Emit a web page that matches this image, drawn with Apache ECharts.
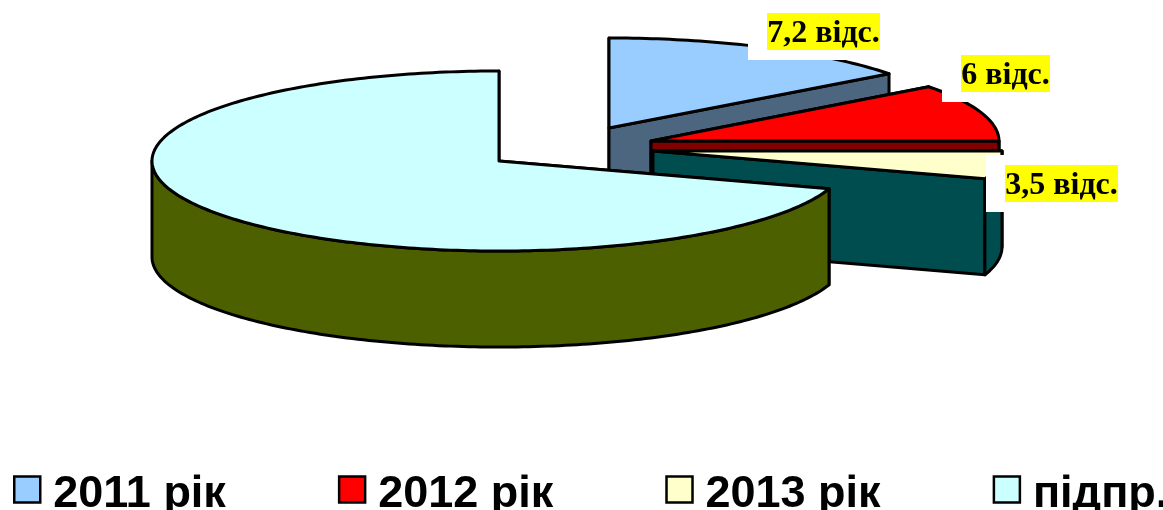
<!DOCTYPE html>
<html>
<head>
<meta charset="utf-8">
<style>
  html, body { margin: 0; padding: 0; background: #fff; overflow: hidden; }
  #chart { width: 1163px; height: 510px; }
</style>
<script src="https://cdn.jsdelivr.net/npm/echarts@6/dist/echarts.min.js"></script>
</head>
<body>
<div id="chart"></div>
<script>
// data
const categories = ['2011 рік', '2012 рік', '2013 рік', 'підпр.'];
const shares = [14.7, 10.3, 5.0, 70.0]; // share of the circle, %
const labels = ['7,2 відс.', '6 відс.', '3,5 відс.', ''];

// styles
const topColors = ['#99ccff', '#ff0000', '#ffffcc', '#ccffff'];
const wallColors = ['#4d6680', '#800000', '#004d50', '#4d6000'];

// layout of the exploded slices: centre x, centre y, rx
const sliceCx = [609, 651, 653, 499];
const sliceCy = [128, 141, 151, 161];
const sliceRx = [351, 348, 349, 347];
const ry = 90;
const depth = 96;
const lineW = 3;

// label boxes: x, y, w, h of the yellow part
const labelBox = [
  [767, 13, 113, 37],
  [961, 55, 89, 37],
  [1005, 165, 113, 37],
  null
];

function sliceAngles(i) {
  let start = -90;
  for (let k = 0; k < i; k++) start += shares[k] * 3.6;
  return [start, start + shares[i] * 3.6];
}

function rimPoint(i, deg, dy) {
  const t = deg * Math.PI / 180;
  return [sliceCx[i] + sliceRx[i] * Math.cos(t), sliceCy[i] + ry * Math.sin(t) + (dy || 0)];
}

function arc(i, from, to, dy) {
  const pts = [];
  const n = Math.max(2, Math.ceil(Math.abs(to - from)));
  for (let k = 0; k <= n; k++) pts.push(rimPoint(i, from + (to - from) * k / n, dy));
  return pts;
}

function poly(points, fill) {
  return {
    type: 'polygon',
    shape: { points: points },
    style: { fill: fill, stroke: '#000', lineWidth: lineW, lineJoin: 'round' }
  };
}

function renderSlice(params, api) {
  const i = params.seriesIndex;
  const a = sliceAngles(i);
  const apex = [sliceCx[i], sliceCy[i]];
  const apexLow = [sliceCx[i], sliceCy[i] + depth];
  const children = [];

  // cut walls, then outer wall, then the top
  [a[0], a[1]].forEach(function (deg) {
    children.push(poly([apex, rimPoint(i, deg), rimPoint(i, deg, depth), apexLow], wallColors[i]));
  });
  // the part of the rim that faces us lies between 0 and 180 degrees
  const ranges = [[a[0], a[1]], [a[0] + 360, a[1] + 360]];
  ranges.forEach(function (r) {
    const from = Math.max(r[0], 0);
    const to = Math.min(r[1], 180);
    if (to > from) {
      children.push(poly(arc(i, from, to, 0).concat(arc(i, to, from, depth)), wallColors[i]));
    }
  });
  children.push(poly([apex].concat(arc(i, a[0], a[1], 0)), topColors[i]));

  const box = labelBox[i];
  if (box) {
    children.push({
      type: 'rect',
      shape: { x: box[0] - 19, y: box[1] - 10, width: box[2] + 38, height: box[3] + 20 },
      style: { fill: '#fff' }
    });
    children.push({
      type: 'rect',
      shape: { x: box[0], y: box[1], width: box[2], height: box[3] },
      style: { fill: '#ffff00' }
    });
    children.push({
      type: 'text',
      style: {
        text: labels[i],
        x: box[0] + box[2] / 2,
        y: box[1] + box[3] / 2 + 2,
        align: 'center',
        verticalAlign: 'middle',
        fill: '#000',
        font: 'bold 32px "Liberation Serif"'
      }
    });
  }
  return { type: 'group', children: children };
}

const chart = echarts.init(document.getElementById('chart'));
chart.setOption({
  animation: false,
  color: topColors,
  legend: {
    left: 8,
    top: 467,
    width: 2000,
    itemWidth: 26,
    itemHeight: 26,
    itemGap: 112,
    selectedMode: false,
    icon: 'rect',
    itemStyle: { borderColor: '#000', borderWidth: 2.5 },
    formatter: '{a|{name}}',
    textStyle: {
      rich: {
        a: {
          fontFamily: 'Liberation Sans',
          fontWeight: 'bold',
          fontSize: 45,
          color: '#000',
          padding: [10, 0, 0, 8]
        }
      }
    },
    data: categories
  },
  series: categories.map(function (name, i) {
    return {
      type: 'custom',
      name: name,
      coordinateSystem: 'none',
      silent: true,
      itemStyle: { color: topColors[i] },
      renderItem: renderSlice,
      data: [shares[i]]
    };
  })
});
</script>
</body>
</html>
